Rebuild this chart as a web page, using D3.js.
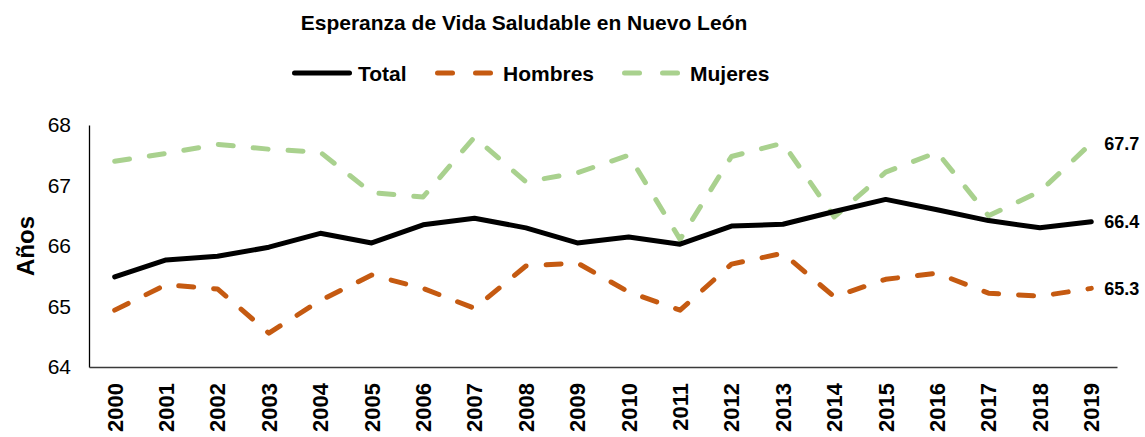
<!DOCTYPE html>
<html>
<head>
<meta charset="utf-8">
<script src="https://cdn.jsdelivr.net/npm/d3@7"></script>
<style>
  body { margin: 0; background: #fff; }
  svg { font-family: "Liberation Sans", Arial, sans-serif; }
</style>
</head>
<body>
<div id="chart"></div>
<script>
// data
var years = ["2000","2001","2002","2003","2004","2005","2006","2007","2008","2009",
             "2010","2011","2012","2013","2014","2015","2016","2017","2018","2019"];
var total =   [65.49,65.77,65.83,65.98,66.21,66.05,66.35,66.46,66.30,66.05,
               66.15,66.03,66.33,66.36,66.57,66.77,66.60,66.42,66.30,66.40];
var hombres = [64.94,65.36,65.29,64.56,65.10,65.52,65.30,64.97,65.67,65.72,
               65.24,64.94,65.70,65.88,65.16,65.45,65.55,65.22,65.17,65.30];
var mujeres = [67.40,67.53,67.68,67.60,67.55,66.88,66.81,67.80,67.06,67.21,
               67.50,66.11,67.48,67.70,66.48,67.22,67.55,66.50,66.90,67.70];
var yTicks = [64, 65, 66, 67, 68];

var series = [
    { name: "Total",   values: total,   color: "#000000", dash: null },
    { name: "Hombres", values: hombres, color: "#C55A11", dash: "15,20" },
    { name: "Mujeres", values: mujeres, color: "#A9D18E", dash: "15,20" }
];

var W = 1145, H = 437;
var svg = d3.select("#chart").append("svg")
    .attr("width", W)
    .attr("height", H);

var x = d3.scaleBand()
    .domain(years)
    .range([89, 1117]);

var y = d3.scaleLinear()
    .domain([64, 68])
    .range([367, 125]);

// title
svg.append("text")
    .attr("x", 524)
    .attr("y", 30)
    .attr("text-anchor", "middle")
    .style("font-weight", "bold")
    .style("font-size", "21px")
    .text("Esperanza de Vida Saludable en Nuevo León");

// legend
var legendPos = [292, 435, 622];
series.forEach(function(s, i) {
    var g = svg.append("g").attr("transform", "translate(" + legendPos[i] + ",73)");
    if (s.dash) {
        [0, 38].forEach(function(off) {
            g.append("line")
                .attr("x1", off + 2.5).attr("x2", off + 17.5)
                .attr("y1", 0).attr("y2", 0)
                .attr("stroke", s.color)
                .attr("stroke-width", 5)
                .attr("stroke-linecap", "round");
        });
        g.append("text")
            .attr("x", 68).attr("y", 0).attr("dy", "0.36em")
            .style("font-weight", "bold").style("font-size", "21px")
            .text(s.name);
    } else {
        g.append("line")
            .attr("x1", 2.5).attr("x2", 57.5)
            .attr("y1", 0).attr("y2", 0)
            .attr("stroke", s.color)
            .attr("stroke-width", 5)
            .attr("stroke-linecap", "round");
        g.append("text")
            .attr("x", 66).attr("y", 0).attr("dy", "0.36em")
            .style("font-weight", "bold").style("font-size", "21px")
            .text(s.name);
    }
});

// y axis
var yAxis = svg.append("g")
    .attr("transform", "translate(89,0)")
    .call(d3.axisLeft(y).tickValues(yTicks).tickSize(0).tickPadding(18).tickFormat(d3.format("d")));
yAxis.select(".domain").attr("stroke", "#000").attr("stroke-width", 1.3);
yAxis.selectAll("text")
    .style("font-size", "21px")
    .style("font-family", "'Liberation Sans', Arial, sans-serif")
    .attr("fill", "#000");

svg.append("text")
    .attr("transform", "translate(34,246) rotate(-90)")
    .attr("text-anchor", "middle")
    .style("font-weight", "bold")
    .style("font-size", "24px")
    .text("Años");

// x axis
var xAxis = svg.append("g")
    .attr("transform", "translate(0,367)")
    .call(d3.axisBottom(x).tickSize(0).tickSizeOuter(0));
xAxis.select(".domain").attr("stroke", "#3a3a3a").attr("stroke-width", 1.5);
xAxis.selectAll("text")
    .attr("transform", "rotate(-90)")
    .attr("x", -16)
    .attr("y", 0)
    .attr("dy", "0.36em")
    .style("text-anchor", "end")
    .style("font-weight", "bold")
    .style("font-size", "22px")
    .style("font-family", "'Liberation Sans', Arial, sans-serif")
    .attr("fill", "#000");

// lines
var line = d3.line()
    .x(function(d, i) { return x(years[i]) + x.bandwidth() / 2; })
    .y(function(d) { return y(d); });

// draw green first, then orange, then black on top
[2, 1, 0].forEach(function(k) {
    var s = series[k];
    svg.append("path")
        .datum(s.values)
        .attr("fill", "none")
        .attr("stroke", s.color)
        .attr("stroke-width", 5)
        .attr("stroke-linecap", "round")
        .attr("stroke-linejoin", "round")
        .attr("stroke-dasharray", s.dash)
        .attr("d", line);
});

// end labels
series.forEach(function(s) {
    var last = s.values[s.values.length - 1];
    svg.append("text")
        .attr("x", x(years[years.length - 1]) + x.bandwidth() / 2 + 13)
        .attr("y", y(last))
        .attr("dy", "0.36em")
        .style("font-weight", "bold")
        .style("font-size", "18px")
        .text(d3.format(".1f")(last));
});
</script>
</body>
</html>
